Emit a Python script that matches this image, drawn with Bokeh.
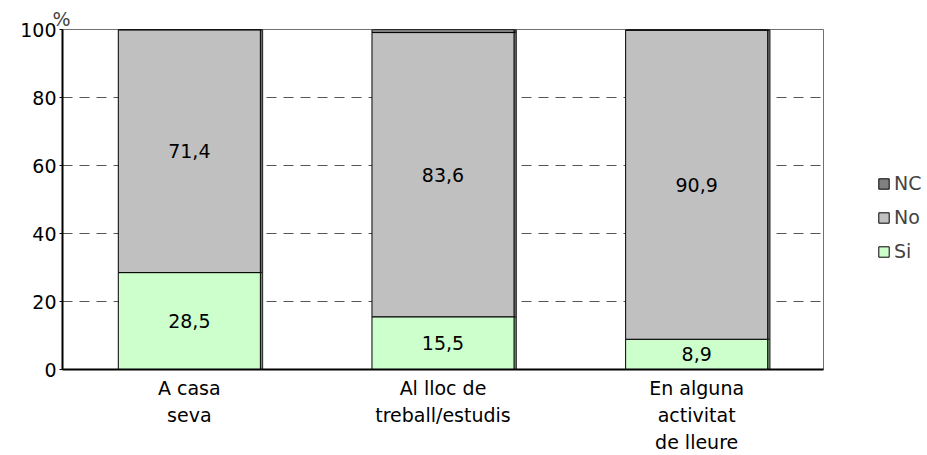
from bokeh.plotting import figure
from bokeh.layouts import row
from bokeh.models import (ColumnDataSource, Legend, LegendItem, FactorRange, Range1d,
                          FixedTicker, CategoricalAxis, CustomJSTickFormatter)
from bokeh.core.properties import value
from bokeh.transform import dodge
from bokeh.embed import file_html
from bokeh.resources import INLINE

categories = ["A casa seva", "Al lloc de treball/estudis", "En alguna activitat de lleure"]
category_lines = [["A casa", "seva"], ["Al lloc de", "treball/estudis"], ["En alguna", "activitat", "de lleure"]]
si = [28.5, 15.5, 8.9]
no = [71.4, 83.6, 90.9]
nc = [0.1, 0.9, 0.2]
series = ["Si", "No", "NC"]
colors = ["#CCFFCC", "#C0C0C0", "#808080"]
side_colors = ["#6E8F6E", "#6A6A6A", "#404040"]
y_ticks = [0, 20, 40, 60, 80, 100]

FONT = "DejaVu Sans"
FS = "19px"

def fmt(v):
    return f"{v:.1f}".replace(".", ",")

source = ColumnDataSource(dict(
    cat=categories,
    Si=si,
    No=no,
    NC=nc,
    si_mid=[s / 2 for s in si],
    no_mid=[s + n / 2 for s, n in zip(si, no)],
    si_txt=[fmt(v) for v in si],
    no_txt=[fmt(v) for v in no],
))

# ---------------- main chart ----------------
p = figure(
    x_range=FactorRange(*categories),
    y_range=Range1d(0, 100),
    width=824, height=455,
    output_backend="svg", toolbar_location=None,
    min_border_left=62, min_border_right=1, min_border_top=29, min_border_bottom=86,
    background_fill_color="white", border_fill_color="white",
)

# side faces (pseudo 3D depth)
p.vbar_stack(series, x=dodge("cat", 0.009, range=p.x_range), width=0.56, color=side_colors,
             source=source, line_color="#202020", line_width=1)

renderers = p.vbar_stack(series, x="cat", width=0.56, color=colors, source=source,
                         line_color="black", line_width=1)

p.text(x="cat", y="si_mid", text="si_txt", source=source, text_align="center",
       text_baseline="middle", text_font=value(FONT), text_font_size=FS, text_color="black")
p.text(x="cat", y="no_mid", text="no_txt", source=source, text_align="center",
       text_baseline="middle", text_font=value(FONT), text_font_size=FS, text_color="black")

p.title.text = "%"
p.title.align = "left"
p.title.offset = -10
p.title.standoff = 0
p.title.text_font = FONT
p.title.text_font_size = FS
p.title.text_font_style = "normal"

p.ygrid.ticker = FixedTicker(ticks=y_ticks)
p.ygrid.grid_line_dash = "10 7"
p.ygrid.grid_line_color = "#555555"
p.xgrid.grid_line_color = None
p.outline_line_color = "#707070"

p.yaxis.ticker = FixedTicker(ticks=y_ticks)
p.yaxis.axis_line_color = "black"
p.yaxis.axis_line_width = 2
p.yaxis.major_tick_line_color = "black"
p.yaxis.major_tick_out = 3
p.yaxis.major_tick_in = 0
p.yaxis.minor_tick_line_color = None
p.yaxis.major_label_standoff = 3
p.yaxis.major_label_text_font = FONT
p.yaxis.major_label_text_font_size = FS
p.yaxis.major_label_text_color = "black"

def line_formatter(i):
    lines = [ls[i] if i < len(ls) else "" for ls in category_lines]
    return CustomJSTickFormatter(
        args=dict(cats=list(categories), lines=lines),
        code="const k = cats.indexOf(tick); return k >= 0 ? lines[k] : '';",
    )

xa = p.xaxis[0]
xa.axis_line_color = "black"
xa.axis_line_width = 2
xa.major_tick_line_color = None
xa.minor_tick_line_color = None
xa.major_tick_out = 0
xa.major_tick_in = 0
xa.major_label_standoff = 7
xa.major_label_text_font = FONT
xa.major_label_text_font_size = FS
xa.major_label_text_color = "black"
xa.formatter = line_formatter(0)

for i in (1, 2):
    ax = CategoricalAxis(
        axis_line_color=None, major_tick_line_color=None, minor_tick_line_color=None,
        major_tick_out=0, major_tick_in=0,
        major_label_standoff=2, major_label_text_font=FONT, major_label_text_font_size=FS,
        major_label_text_color="black", formatter=line_formatter(i),
    )
    p.add_layout(ax, "below")

# ---------------- legend strip (same series, bars placed outside the visible area) ----------------
q = figure(
    x_range=FactorRange(*categories), y_range=Range1d(-2, -1),
    width=103, height=455, output_backend="svg", toolbar_location=None,
    x_axis_location=None, y_axis_location=None,
    min_border_left=0, min_border_right=0, min_border_top=0, min_border_bottom=0,
    background_fill_color="white", border_fill_color="white",
)
q.outline_line_color = None
q.xgrid.grid_line_color = None
q.ygrid.grid_line_color = None
q_renderers = q.vbar_stack(series, x=dodge("cat", 6, range=q.x_range), width=0.56,
                           color=colors, source=source, line_color="black", line_width=1)

legend = Legend(
    items=[LegendItem(label=series[i], renderers=[q_renderers[i]]) for i in (2, 1, 0)],
    location=(53, 107),
    glyph_width=13, glyph_height=13, label_standoff=4,
    label_text_font=FONT, label_text_font_size=FS, label_height=20,
    spacing=12, padding=0, margin=0,
    border_line_alpha=0, background_fill_alpha=0,
)
q.add_layout(legend)

open("out.html", "w").write(file_html(row(p, q), INLINE))
